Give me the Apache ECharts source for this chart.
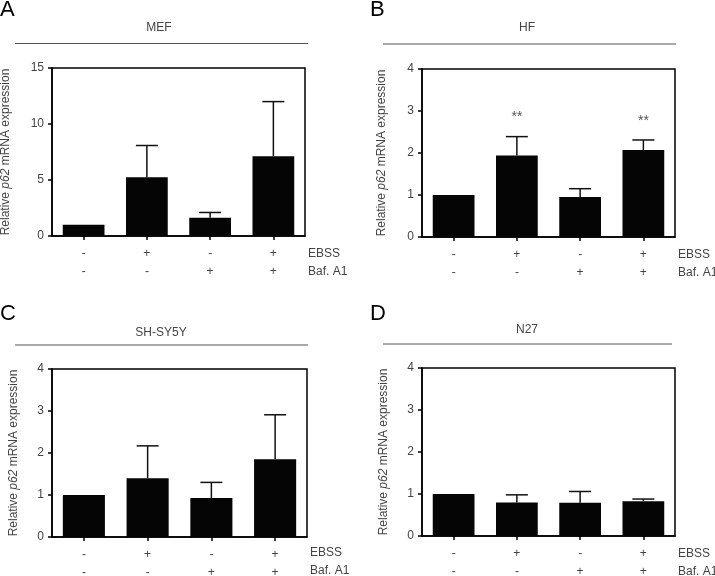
<!DOCTYPE html>
<html><head><meta charset="utf-8">
<script src="https://cdn.jsdelivr.net/npm/echarts@6/dist/echarts.min.js"></script>
<style>html,body{margin:0;padding:0;background:#fff}#c{width:715px;height:576px}</style>
</head><body><div id="c"></div>
<script>
// ---- data ----
var categories = ['c1', 'c2', 'c3', 'c4'];
var ebssRow = ['-', '+', '-', '+'];
var bafRow = ['-', '-', '+', '+'];
var panelLetters = ['A', 'B', 'C', 'D'];
var panelTitles = ['MEF', 'HF', 'SH-SY5Y', 'N27'];
var meanMEF = [1, 5.25, 1.64, 7.13];
var sdMEF = [0, 2.83, 0.46, 4.87];
var meanHF = [1, 1.94, 0.95, 2.07];
var sdHF = [0, 0.45, 0.20, 0.24];
var sigHF = ['', '**', '', '**'];
var meanSH = [1, 1.40, 0.93, 1.85];
var sdSH = [0, 0.77, 0.37, 1.06];
var meanN27 = [1, 0.80, 0.79, 0.83];
var sdN27 = [0, 0.18, 0.27, 0.05];
var yMax = [15, 4, 4, 4];
var yInterval = [5, 1, 1, 1];

var means = [meanMEF, meanHF, meanSH, meanN27];
var sds = [sdMEF, sdHF, sdSH, sdN27];
var sigs = [null, sigHF, null, null];

// ---- layout ----
var grids = [
  {left: 52, top: 68, width: 253, height: 168},
  {left: 422, top: 69, width: 253, height: 168},
  {left: 52, top: 369, width: 255, height: 168},
  {left: 422, top: 368, width: 253, height: 168}
];
var nameGaps = [40, 34, 32, 32];
var TXT = '#444';
var FONT = '"Liberation Sans", Arial, sans-serif';

var option = {
  animation: false,
  textStyle: {fontFamily: FONT},
  grid: grids.map(function (g) {
    return Object.assign({show: true, borderColor: '#000', borderWidth: 1.5, backgroundColor: 'transparent', containLabel: false, outerBoundsMode: 'none'}, g);
  }),
  xAxis: [], yAxis: [], series: [], graphic: []
};

for (var p = 0; p < 4; p++) {
  option.xAxis.push({
    type: 'category', gridIndex: p, data: categories,
    axisLine: {show: true, lineStyle: {color: '#000', width: 1.5}},
    axisTick: {show: true, alignWithLabel: true, length: 4, lineStyle: {color: '#000', width: 1.5}},
    axisLabel: {
      margin: 9, fontSize: 12, color: TXT, lineHeight: 18, fontFamily: FONT,
      formatter: function (v, i) { return ebssRow[i] + '\n' + bafRow[i]; }
    },
    name: 'EBSS\nBaf. A1', nameLocation: 'end', nameGap: 3,
    nameTextStyle: {fontSize: 12, color: TXT, lineHeight: 18, align: 'left', verticalAlign: 'top', padding: [p === 2 ? 7 : 9, 0, 0, 0], fontFamily: FONT}
  });
  option.yAxis.push({
    type: 'value', gridIndex: p, min: 0, max: yMax[p], interval: yInterval[p],
    splitLine: {show: false},
    axisLine: {show: true, lineStyle: {color: '#000', width: 1.5}},
    axisTick: {show: true, length: 4, lineStyle: {color: '#000', width: 1.5}},
    axisLabel: {fontSize: 12, color: TXT, margin: 8, fontFamily: FONT},
    name: '{a|Relative }{i|p62}{a| mRNA expression}',
    nameLocation: 'middle', nameGap: nameGaps[p],
    nameTextStyle: {
      fontSize: 12, color: TXT, fontFamily: FONT,
      rich: {a: {fontSize: 12, color: TXT, fontFamily: FONT}, i: {fontSize: 12, color: TXT, fontStyle: 'italic', fontFamily: FONT}}
    }
  });
  option.series.push({
    type: 'bar', xAxisIndex: p, yAxisIndex: p, data: means[p],
    barWidth: '66%', itemStyle: {color: '#050505'}, z: 2
  });
  (function (pi) {
    var errData = means[pi].map(function (m, i) { return [i, m, sds[pi][i]]; });
    option.series.push({
      type: 'custom', xAxisIndex: pi, yAxisIndex: pi, data: errData, z: 3,
      renderItem: function (params, api) {
        var i = api.value(0), m = api.value(1), s = api.value(2);
        var base = api.coord([i, m]);
        var top = api.coord([i, m + s]);
        var children = [];
        if (s > 0) {
          children.push({type: 'line', shape: {x1: base[0], y1: base[1], x2: top[0], y2: top[1]}, style: {stroke: '#111', lineWidth: 1.5}});
          children.push({type: 'line', shape: {x1: top[0] - 11, y1: top[1], x2: top[0] + 11, y2: top[1]}, style: {stroke: '#111', lineWidth: 1.5}});
        }
        var sg = sigs[pi];
        if (sg && sg[i]) {
          children.push({type: 'text', x: top[0], y: top[1] - 19, style: {text: sg[i], textAlign: 'center', textVerticalAlign: 'middle', fontSize: 14, fill: '#555', fontFamily: FONT}});
        }
        return {type: 'group', children: children};
      }
    });
  })(p);
}

// panel letters, titles and title rules
var letterPos = [[0, 10], [370, 10], [0, 314], [370, 314]];
var titlePos = [[159, 28], [527, 28], [161, 333], [527, 330]];
var rulePos = [[15, 308, 43.5], [383, 676, 44], [15, 308, 345], [383, 672, 344]];
for (var k = 0; k < 4; k++) {
  option.graphic.push({type: 'text', x: letterPos[k][0], y: letterPos[k][1],
    style: {text: panelLetters[k], fontSize: 22, fill: '#000', textVerticalAlign: 'middle', fontFamily: FONT}});
  option.graphic.push({type: 'text', x: titlePos[k][0], y: titlePos[k][1],
    style: {text: panelTitles[k], fontSize: 12, fill: TXT, textAlign: 'center', textVerticalAlign: 'middle', fontFamily: FONT}});
  option.graphic.push({type: 'line', shape: {x1: rulePos[k][0], y1: rulePos[k][2], x2: rulePos[k][1], y2: rulePos[k][2]},
    style: {stroke: '#555', lineWidth: 1}});
}

var chart = echarts.init(document.getElementById('c'), null, {renderer: 'canvas'});
chart.setOption(option);
</script>
</body></html>
